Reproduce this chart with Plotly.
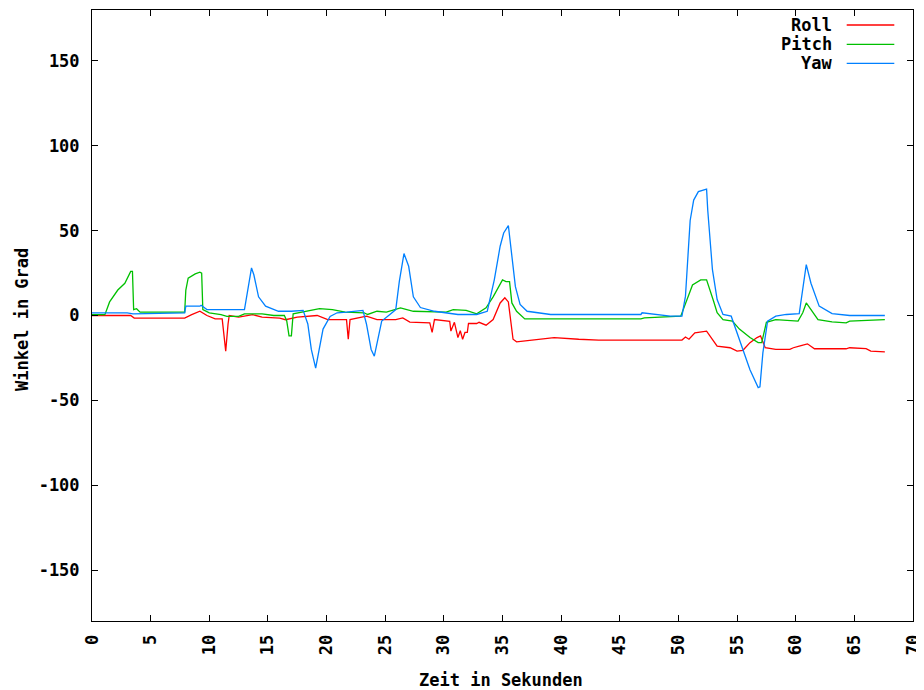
import plotly.graph_objects as go

# ---- data ----
roll_t = [0, 3.3, 3.6, 7.9, 8.5, 9.2, 9.8, 10.5, 11.1, 11.4, 11.6, 11.7, 12.5, 13.7, 14.5, 16, 16.5, 17.5,
          19.2, 20.1, 21.7, 21.85, 22.0, 23.4, 24.3, 25.9, 26.5, 27.1, 28.8, 29.0, 29.2, 30.5, 30.6, 30.9,
          31.2, 31.4, 31.6, 31.8, 32.0, 32.1, 32.8, 33.0, 33.6, 34.2, 34.8, 35.2, 35.5, 35.7, 35.9, 36.2,
          37.3, 39.4, 41.5, 43.2, 50.3, 50.6, 50.9, 51.4, 52.4, 53.0, 53.3, 54.4, 55.0, 55.5, 56.1, 56.7,
          57.0, 57.4, 58.3, 59.5, 59.8, 60.3, 61.0, 61.6, 64.3, 64.6, 66.0, 66.4, 67.6]
roll_v = [0, 0, -1.5, -1.5, 0.5, 2.5, 0, -2, -2, -21, -5, 0, -1, 0.5, -1, -1.5, -2.5, -1,
          0, -2.4, -2.4, -14, -2.4, -0.4, -2.4, -2.4, -1.4, -3.9, -4.3, -10, -2.4, -3.4, -9.2, -4,
          -13, -9, -14, -10, -10, -4.7, -4.7, -4, -5.7, -2.4, 7.4, 10.4, 8, -4, -14, -15.5,
          -14.5, -13, -14, -14.5, -14.5, -12.7, -14, -10.2, -9.2, -15, -18, -19, -21, -20.5, -16, -13,
          -12, -19, -20, -20, -19, -18, -16.7, -19.6, -19.6, -19, -19.5, -21, -21.4]

pitch_t = [0, 1.1, 1.5, 2.2, 2.8, 3.3, 3.45, 3.55, 3.8, 4.1, 7.9, 8.0, 8.2, 8.8, 9.2, 9.35, 9.45, 10.0,
           11.0, 11.5, 12.5, 13.0, 14.5, 15.5, 16.4, 16.6, 16.8, 17.0, 17.15, 17.5, 18.5, 19.4, 20.5,
           21.6, 23.2, 23.5, 24.3, 25.1, 26.3, 27.4, 30.2, 30.8, 31.9, 32.8, 33.6, 34.2, 35.0, 35.3, 35.6,
           35.8, 36.2, 36.9, 46.8, 47.1, 50.2, 50.6, 51.2, 51.9, 52.4, 53.0, 53.3, 53.8, 54.6, 55.2, 56.1,
           56.8, 57.1, 57.5, 58.3, 60.2, 60.6, 60.9, 61.3, 61.9, 63.1, 64.3, 64.6, 67.6]
pitch_v = [0.5, 0.5, 8, 15, 19, 26, 26, 3.5, 4, 2, 2, 15, 22, 24.5, 25.5, 25, 3.5, 1.5,
           0.5, -0.5, -0.5, 1, 1, 0, 0, -3, -12, -12, 1, 1.5, 2.5, 4, 3.5,
           2, 1.6, 0.6, 2.5, 2, 4.5, 2.5, 2, 3.5, 3, 1, 4.5, 11, 21, 20, 20,
           7.4, 2.5, -2, -2, -1.4, -0.4, 7.4, 18, 21, 21, 8.4, 1.6, -2.4, -3.3, -8, -13,
           -16, -16, -4, -2.4, -3.3, 1.6, 7.4, 3.5, -2.4, -3.7, -4.3, -3.3, -2.4]

yaw_t = [0, 3.0, 3.5, 7.9, 8.0, 9.2, 9.3, 9.8, 13.0, 13.3, 13.6, 13.8, 14.2, 14.8, 15.9, 17.0, 18.0,
         18.4, 18.7, 19.07, 19.4, 19.7, 20.3, 20.9, 21.7, 23.1, 23.4, 23.8, 24.07, 24.4, 24.7, 25.4,
         25.9, 26.2, 26.6, 27.0, 27.4, 28.0, 29.2, 31.2, 32.8, 33.7, 34.3, 34.8, 35.1, 35.5, 35.7, 36.1,
         36.5, 37.1, 39.1, 46.8, 46.9, 47.9, 49.3, 50.3, 50.6, 51.0, 51.3, 51.7, 52.4, 52.5, 52.9, 53.3,
         53.8, 54.5, 54.8, 55.4, 56.1, 56.8, 56.95, 57.2, 57.6, 58.3, 59.2, 60.3, 60.6, 60.9, 61.3, 62.0,
         63.1, 64.6, 67.6]
yaw_v = [1.5, 1.5, 1, 1.5, 5.5, 5.5, 6, 3.5, 3.5, 15, 28, 24, 11, 5.5, 2.5, 2.5, 3,
         -5, -20, -31, -20, -8, -0.6, 1.6, 2, 3, -5, -20, -24, -13, -3.3, 0.6,
         3.5, 20, 36.5, 29, 11, 4.7, 2.5, 0.6, 0.6, 2.5, 21, 40.8, 48.6, 53, 40.8, 17,
         6.5, 2.5, 0.6, 0.6, 1.6, 0.6, -0.4, -0.4, 11.4, 56, 68, 73, 74.5, 62, 27, 9.4,
         0.6, -0.4, -6.3, -18, -32, -42.5, -42, -22, -3.3, -0.4, 0.6, 1.1, 15, 30, 19, 5.5,
         1.1, 0, 0]

series_names = ["Roll", "Pitch", "Yaw"]
series_colors = ["#ff0000", "#00c000", "#0080ff"]
x_ticks = [0, 5, 10, 15, 20, 25, 30, 35, 40, 45, 50, 55, 60, 65, 70]
y_ticks = [-150, -100, -50, 0, 50, 100, 150]

FONT = "DejaVu Sans Mono"
PAGE_W, PAGE_H = 924, 690
OFF = 8  # default body margin of the html page
# plot area in page pixels
PL, PR, PT, PB = 92, 913, 10, 621
W, H = PAGE_W - OFF, PAGE_H - OFF
L, T = PL - OFF, PT - OFF
R = W - (PR - OFF)
B = H - (PB - OFF)
pw, ph = PR - PL, PB - PT

fig = go.Figure()
for name, col, t, v in zip(series_names, series_colors,
                           [roll_t, pitch_t, yaw_t], [roll_v, pitch_v, yaw_v]):
    fig.add_trace(go.Scatter(x=t, y=v, mode="lines", name=name,
                             line=dict(color=col, width=1.3), showlegend=False))

axis_common = dict(showgrid=False, zeroline=False, showline=True, linecolor="#000000",
                   linewidth=1, mirror="ticks", ticks="inside", ticklen=6,
                   tickcolor="#000000", tickwidth=1,
                   tickfont=dict(family=FONT, size=17, color="#000000", weight="bold"))

fig.update_layout(
    width=W, height=H, margin=dict(l=L, r=R, t=T, b=B, autoexpand=False),
    paper_bgcolor="white", plot_bgcolor="white",
    xaxis=dict(range=[0, 70], tickvals=x_ticks, ticktext=[str(v) for v in x_ticks],
               tickangle=-90, ticklabelstandoff=6, **axis_common),
    yaxis=dict(range=[-180, 180], tickvals=y_ticks, ticktext=[str(v) for v in y_ticks],
               ticklabelstandoff=8, **axis_common),
)

def px_x(p):
    return (p - PL) / pw

def px_y(p):
    return (PB - p) / ph

ann_font = dict(family=FONT, size=17, color="#000000", weight="bold")
annotations = [
    dict(text="Zeit in Sekunden", x=px_x(501), y=px_y(680), xref="paper", yref="paper",
         showarrow=False, xanchor="center", yanchor="middle", font=ann_font),
    dict(text="Winkel in Grad", x=px_x(22), y=px_y(320), xref="paper", yref="paper",
         showarrow=False, xanchor="center", yanchor="middle", textangle=-90, font=ann_font),
]
shapes = []
rows = [25, 44.3, 63.3]
for name, col, ry in zip(series_names, series_colors, rows):
    annotations.append(dict(text=name, x=px_x(834), y=px_y(ry), xref="paper", yref="paper",
                            showarrow=False, xanchor="right", yanchor="middle", font=ann_font))
    shapes.append(dict(type="line", xref="paper", yref="paper", x0=px_x(846.7), x1=px_x(894.3),
                       y0=px_y(ry), y1=px_y(ry), line=dict(color=col, width=1.3)))
fig.update_layout(annotations=annotations, shapes=shapes)

fig.write_html("out.html")
